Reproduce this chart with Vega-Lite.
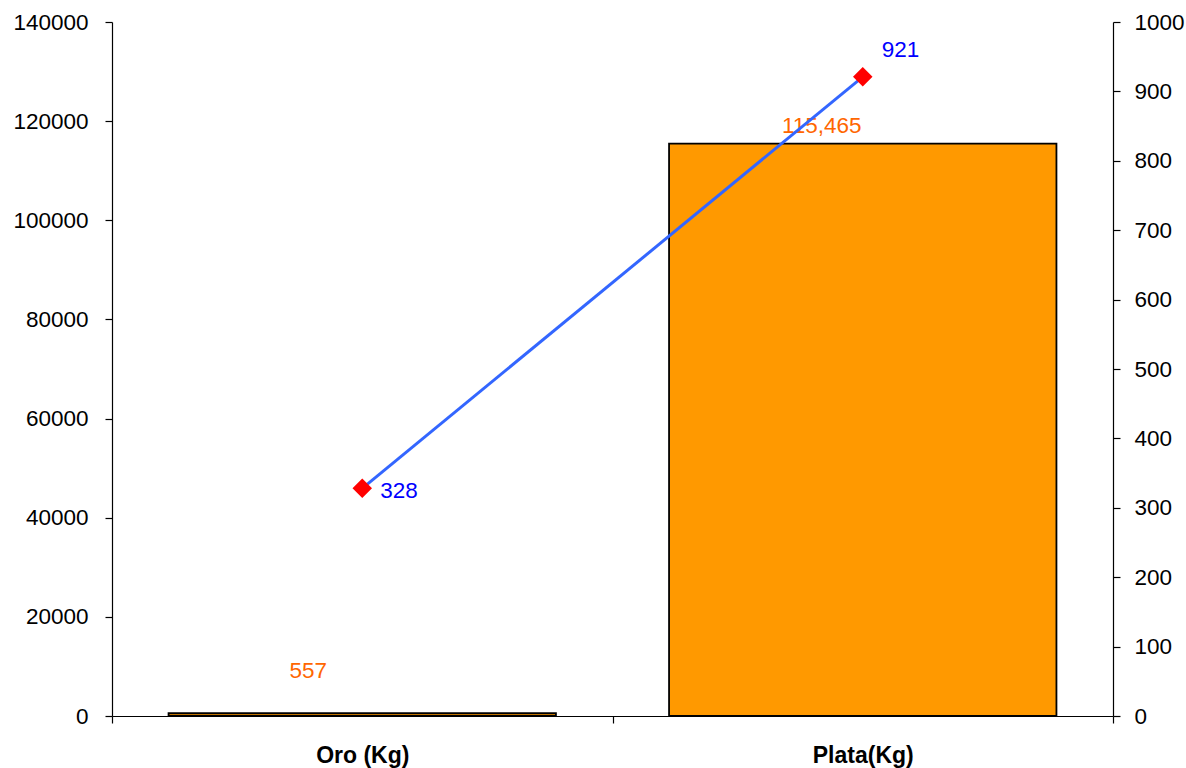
{
  "$schema": "https://vega.github.io/schema/vega-lite/v6.json",
  "autosize": {"type": "none"},
  "padding": {"left": 112, "top": 22, "right": 73, "bottom": 52},
  "width": 1001,
  "height": 694,
  "background": "white",
  "config": {
    "view": {"stroke": null},
    "font": "Liberation Sans",
    "axis": {"grid": false, "domainColor": "black", "tickColor": "black", "labelColor": "black", "labelFont": "Liberation Sans", "labelFontSize": 22.5, "title": null, "tickSize": 7, "domainWidth": 1.2, "tickWidth": 1.2}
  },
  "data": {"values": [
    {"metal": "Oro (Kg)", "cantidad": 557, "valor": 328},
    {"metal": "Plata(Kg)", "cantidad": 115465, "valor": 921}
  ]},
  "encoding": {
    "x": {"field": "metal", "type": "nominal", "sort": null,
      "scale": {"paddingInner": 0, "paddingOuter": 0},
      "axis": {"labelAngle": 0, "labelFontWeight": "bold", "labelFontSize": 23, "labelPadding": 21, "tickBand": "extent"}}
  },
  "layer": [
    {
      "encoding": {
        "y": {"field": "cantidad", "type": "quantitative",
          "scale": {"domain": [0, 140000], "nice": false},
          "axis": {"orient": "left", "values": [0, 20000, 40000, 60000, 80000, 100000, 120000, 140000], "format": "d", "labelPadding": 17}}
      },
      "layer": [
        {"mark": {"type": "bar", "color": "#FF9900", "stroke": "black", "strokeWidth": 1.8, "width": {"band": 0.774}}},
        {"transform": [{"filter": "datum.metal === 'Oro (Kg)'"}],
          "mark": {"type": "text", "color": "#FF6600", "fontSize": 22.5, "dx": -54, "dy": -42, "baseline": "middle"},
          "encoding": {"text": {"field": "cantidad", "type": "quantitative", "format": ",d"}}},
        {"transform": [{"filter": "datum.metal === 'Plata(Kg)'"}],
          "mark": {"type": "text", "color": "#FF6600", "fontSize": 22.5, "dx": -41, "dy": -18, "baseline": "middle"},
          "encoding": {"text": {"field": "cantidad", "type": "quantitative", "format": ",d"}}}
      ]
    },
    {
      "encoding": {
        "y": {"field": "valor", "type": "quantitative",
          "scale": {"domain": [0, 1000], "nice": false},
          "axis": {"orient": "right", "values": [0, 100, 200, 300, 400, 500, 600, 700, 800, 900, 1000], "format": "d", "labelPadding": 14}}
      },
      "layer": [
        {"mark": {"type": "line", "color": "#3366FF", "strokeWidth": 3}},
        {"mark": {"type": "point", "shape": "diamond", "filled": true, "color": "#FF0000", "size": 380, "opacity": 1}},
        {"transform": [{"filter": "datum.metal === 'Oro (Kg)'"}],
          "mark": {"type": "text", "color": "#0000FF", "fontSize": 22.5, "align": "left", "dx": 18, "dy": 3, "baseline": "middle"},
          "encoding": {"text": {"field": "valor", "type": "quantitative"}}},
        {"transform": [{"filter": "datum.metal === 'Plata(Kg)'"}],
          "mark": {"type": "text", "color": "#0000FF", "fontSize": 22.5, "align": "left", "dx": 19, "dy": -27, "baseline": "middle"},
          "encoding": {"text": {"field": "valor", "type": "quantitative"}}}
      ]
    }
  ],
  "resolve": {"scale": {"y": "independent"}}
}
